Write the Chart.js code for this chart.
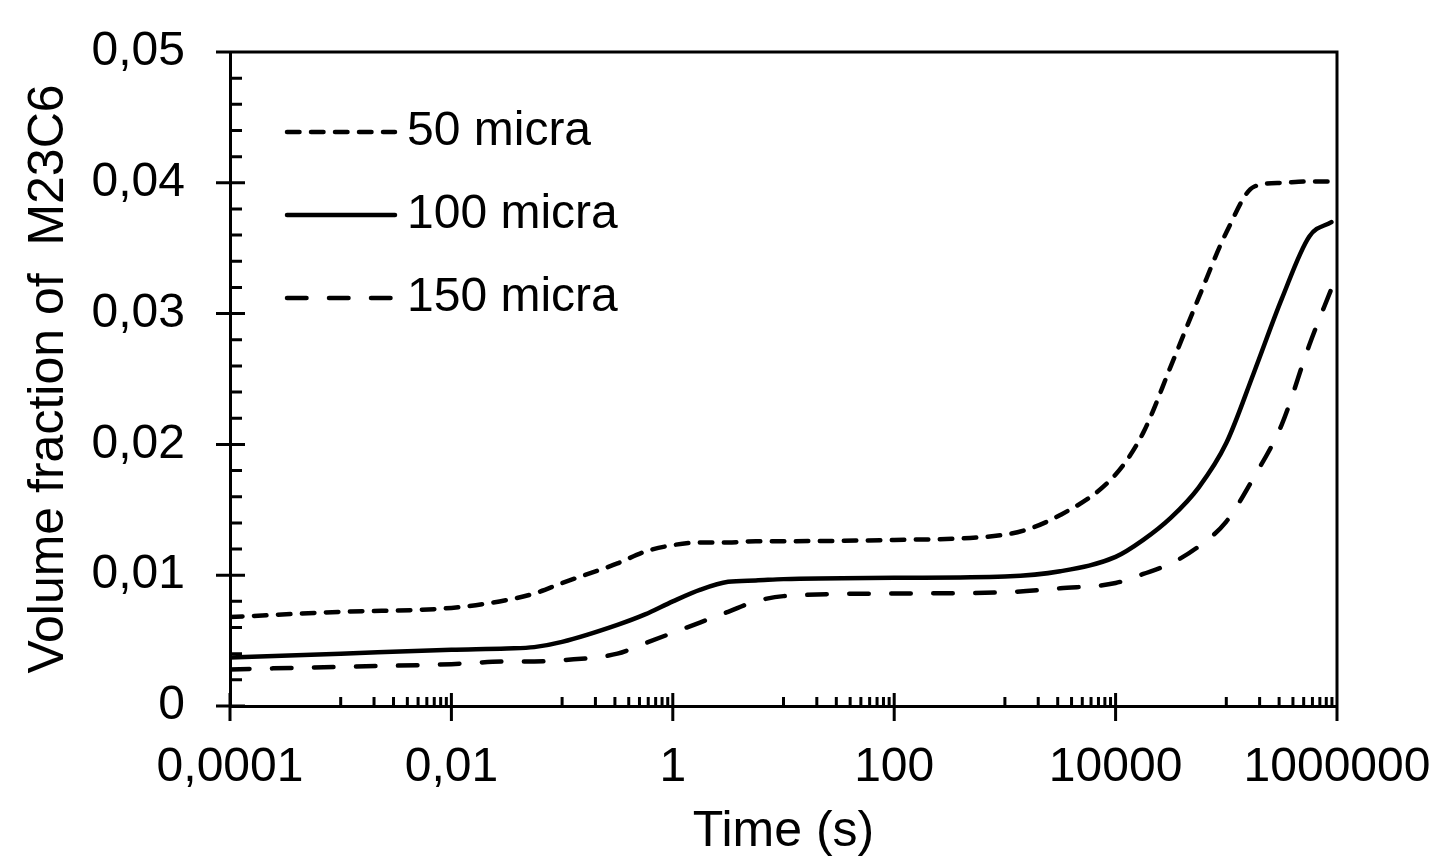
<!DOCTYPE html>
<html>
<head>
<meta charset="utf-8">
<script src="https://cdn.jsdelivr.net/npm/chart.js@4.4.1/dist/chart.umd.min.js"></script>
<style>
html,body{margin:0;padding:0;background:#fff;}
#wrap{width:1447px;height:860px;position:relative;}
</style>
</head>
<body>
<div id="wrap"><canvas id="c" width="1447" height="860"></canvas></div>
<script>
// ---- data ----
const times = [1e-4, 1e-3, 1e-2, 0.0316, 0.056, 0.1, 0.316, 0.562, 1, 1.78, 3.16, 5.62, 10, 100, 1000, 3162, 10000, 17783, 31623, 56234, 100000, 177828, 316228, 562341, 890000];
const micra50  = [0.0068,0.0072,0.0075,0.0081,0.0086,0.0094,0.0109,0.0118,0.0123,0.0125,0.0125,0.0126,0.0126,0.0127,0.0131,0.0146,0.0177,0.0209,0.0260,0.0312,0.0362,0.0397,0.0400,0.0401,0.0401];
const micra100 = [0.0037,0.0040,0.0043,0.0044,0.0045,0.0049,0.0062,0.0070,0.0080,0.0089,0.0095,0.0096,0.0097,0.0098,0.0099,0.0103,0.0114,0.0127,0.0144,0.0167,0.0201,0.0255,0.0311,0.0359,0.0370];
const micra150 = [0.0028,0.0030,0.0032,0.0034,0.0034,0.0035,0.0040,0.0048,0.0056,0.0064,0.0072,0.0080,0.0084,0.0086,0.0087,0.0090,0.0094,0.0101,0.0109,0.0122,0.0141,0.0175,0.0215,0.0276,0.0319];
const seriesNames = ['50 micra', '100 micra', '150 micra'];
const xTickValues = [1e-4, 1e-2, 1, 100, 1e4, 1e6];
const xTickLabels = ['0,0001', '0,01', '1', '100', '10000', '1000000'];
const yTickValues = [0, 0.01, 0.02, 0.03, 0.04, 0.05];
const yTickLabels = ['0', '0,01', '0,02', '0,03', '0,04', '0,05'];
const xTitle = 'Time (s)';
const yTitle = 'Volume fraction of  M23C6';

const FONT = '"Liberation Sans", Arial, sans-serif';
const toPts = arr => times.map((t, i) => ({x: t, y: arr[i]}));

const frameTicksPlugin = {
  id: 'frameTicks',
  afterDraw(chart) {
    const {ctx, chartArea: ca, scales: {x, y}} = chart;
    ctx.save();
    ctx.strokeStyle = '#000';
    ctx.lineWidth = 3;
    ctx.lineCap = 'butt';
    ctx.beginPath();
    ctx.moveTo(ca.left, ca.top); ctx.lineTo(ca.right, ca.top); ctx.lineTo(ca.right, ca.bottom);
    yTickValues.forEach(v => { const p = y.getPixelForValue(v); ctx.moveTo(ca.left - 14, p); ctx.lineTo(ca.left + 15, p); });
    for (let i = 0; i < yTickValues.length - 1; i++) {
      const a = yTickValues[i], b = yTickValues[i + 1];
      for (let k = 1; k < 5; k++) { const p = y.getPixelForValue(a + (b - a) * k / 5); ctx.moveTo(ca.left, p); ctx.lineTo(ca.left + 12, p); }
    }
    xTickValues.forEach(v => { const p = x.getPixelForValue(v); ctx.moveTo(p, ca.bottom - 13); ctx.lineTo(p, ca.bottom + 15); });
    for (let i = 0; i < xTickValues.length - 1; i++) {
      const m = Math.sqrt(xTickValues[i] * xTickValues[i + 1]);
      for (let k = 1; k <= 9; k++) { const p = x.getPixelForValue(m * k); ctx.moveTo(p, ca.bottom); ctx.lineTo(p, ca.bottom - 9); }
    }
    ctx.stroke();
    ctx.restore();

    chart.data.datasets.forEach((ds, i) => {
      const ly = ca.top + 80 + i * 83;
      ctx.save();
      ctx.strokeStyle = ds.borderColor;
      ctx.lineWidth = ds.borderWidth;
      ctx.lineCap = ds.borderCapStyle || 'butt';
      ctx.setLineDash(ds.borderDash || []);
      ctx.beginPath();
      ctx.moveTo(ca.left + 57, ly); ctx.lineTo(ca.left + 165, ly);
      ctx.stroke();
      ctx.setLineDash([]);
      ctx.fillStyle = '#000';
      ctx.font = '48px ' + FONT;
      ctx.textBaseline = 'middle';
      ctx.textAlign = 'left';
      ctx.fillText(ds.label, ca.left + 177, ly);
      ctx.restore();
    });
  }
};

new Chart(document.getElementById('c'), {
  type: 'line',
  data: {
    datasets: [
      {label: seriesNames[0], data: toPts(micra50), borderColor: '#000', borderWidth: 4.5, borderDash: [12.5, 11.5], borderCapStyle: 'round', pointRadius: 0, cubicInterpolationMode: 'monotone', fill: false},
      {label: seriesNames[1], data: toPts(micra100), borderColor: '#000', borderWidth: 4.5, borderDash: [], borderCapStyle: 'round', pointRadius: 0, cubicInterpolationMode: 'monotone', fill: false},
      {label: seriesNames[2], data: toPts(micra150), borderColor: '#000', borderWidth: 4.5, borderDash: [19.5, 22.5], borderCapStyle: 'round', pointRadius: 0, cubicInterpolationMode: 'monotone', fill: false}
    ]
  },
  options: {
    responsive: false,
    devicePixelRatio: 1,
    animation: false,
    layout: {padding: {top: 52, right: 110, bottom: 0, left: 0}},
    plugins: {legend: {display: false}, tooltip: {enabled: false}},
    scales: {
      x: {
        type: 'logarithmic', min: 1e-4, max: 1e6,
        afterBuildTicks: s => { s.ticks = xTickValues.map(v => ({value: v})); },
        afterFit: s => { s.height = 154; s.paddingLeft = 0; s.paddingRight = 0; s.paddingTop = 0; s.paddingBottom = 0; },
        ticks: {autoSkip: false, maxRotation: 0, minRotation: 0, padding: 33, color: '#000', font: {family: FONT, size: 48}, callback: (v, i) => xTickLabels[i]},
        grid: {display: false, drawTicks: false},
        border: {display: true, color: '#000', width: 3},
        title: {display: true, text: xTitle, color: '#000', font: {family: FONT, size: 50, lineHeight: 1.1}, padding: {top: 0, bottom: 0}}
      },
      y: {
        type: 'linear', min: 0, max: 0.05,
        afterBuildTicks: s => { s.ticks = yTickValues.map(v => ({value: v})); },
        afterFit: s => { s.width = 230; s.paddingLeft = 0; s.paddingRight = 0; s.paddingTop = 0; s.paddingBottom = 0; },
        ticks: {padding: 45, color: '#000', font: {family: FONT, size: 48}, callback: (v, i) => yTickLabels[i]},
        grid: {display: false, drawTicks: false},
        border: {display: true, color: '#000', width: 3},
        title: {display: true, text: yTitle, color: '#000', font: {family: FONT, size: 50, lineHeight: 1.1}, padding: {top: 22, bottom: 0}}
      }
    }
  },
  plugins: [frameTicksPlugin]
});
</script>
</body>
</html>
